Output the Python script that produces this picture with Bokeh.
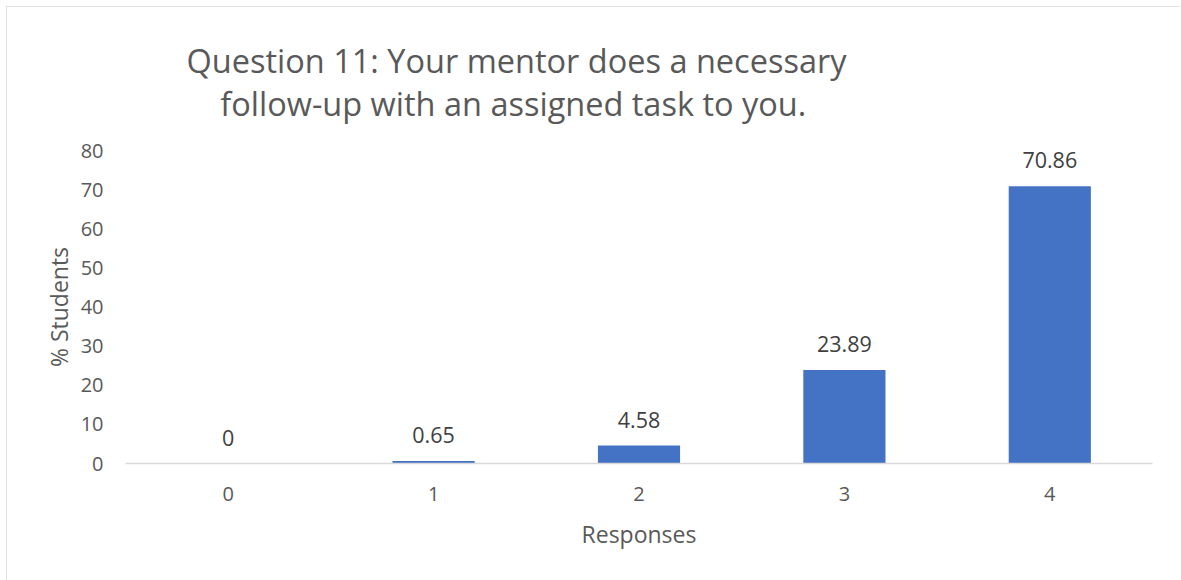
from bokeh.plotting import figure
from bokeh.models import ColumnDataSource, LabelSet, Title, Range1d, FixedTicker
from bokeh.core.properties import value
from bokeh.embed import file_html
from bokeh.resources import INLINE

categories = [0, 1, 2, 3, 4]
percent_students = [0, 0.65, 4.58, 23.89, 70.86]
value_labels = ["0", "0.65", "4.58", "23.89", "70.86"]
title_lines = ["Question 11: Your mentor does a necessary", "follow-up with an assigned task to you."]
y_ticks = [0, 10, 20, 30, 40, 50, 60, 70, 80]

FONT = "Open Sans"
TXT = "#595959"

src = ColumnDataSource(dict(x=categories, top=percent_students, lab=value_labels))

p = figure(width=1174, height=574, output_backend="svg", toolbar_location=None,
           x_range=Range1d(-0.5, 4.5), y_range=Range1d(0, 80),
           min_border_left=119, min_border_right=28, min_border_top=144, min_border_bottom=117)
p.styles = {"margin-left": "6px", "margin-top": "6px",
            "outline": "1px solid #d9d9d9", "outline-offset": "-1px"}
p.outline_line_color = None
p.grid.visible = False
p.background_fill_color = "white"
p.border_fill_color = "white"

p.vbar(x="x", top="top", width=0.4, source=src, fill_color="#4472C4", line_color=None)

p.add_layout(LabelSet(x="x", y="top", text="lab", source=src, text_align="center",
                      text_baseline="bottom", y_offset=18, text_font=value(FONT),
                      text_font_size="21.5px", text_color="#404040"))

# two-line title; the second line is indented so both lines share one centre
title_text = title_lines[0] + "\n" + "\u00a0" * 4 + title_lines[1]
p.add_layout(Title(text=title_text, align="left", offset=61, standoff=50,
                   text_font=FONT, text_font_size="32.5px", text_font_style="normal",
                   text_line_height=0.95, text_color=TXT), "above")

xa = p.xaxis[0]
xa.ticker = FixedTicker(ticks=categories)
xa.axis_line_color = "#d9d9d9"
xa.axis_line_width = 1.5
xa.major_tick_line_color = None
xa.minor_tick_line_color = None
xa.major_label_standoff = 17
xa.major_label_text_font = FONT
xa.major_label_text_font_size = "20px"
xa.major_label_text_color = TXT
xa.axis_label = "Responses"
xa.axis_label_standoff = 14
xa.axis_label_text_font = FONT
xa.axis_label_text_font_size = "23px"
xa.axis_label_text_font_style = "normal"
xa.axis_label_text_color = TXT

ya = p.yaxis[0]
ya.ticker = FixedTicker(ticks=y_ticks)
ya.axis_line_color = None
ya.major_tick_line_color = None
ya.minor_tick_line_color = None
ya.major_label_standoff = 16
ya.major_label_text_font = FONT
ya.major_label_text_font_size = "20px"
ya.major_label_text_color = TXT
ya.axis_label = "% Students"
ya.axis_label_standoff = 3
ya.axis_label_text_font = FONT
ya.axis_label_text_font_size = "23px"
ya.axis_label_text_font_style = "normal"
ya.axis_label_text_color = TXT

open("out.html", "w").write(file_html(p, INLINE))
